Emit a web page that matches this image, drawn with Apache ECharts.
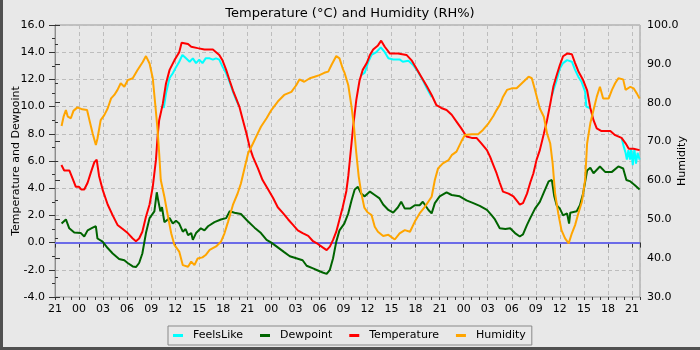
<!DOCTYPE html>
<html>
<head>
<meta charset="utf-8">
<script src="https://cdn.jsdelivr.net/npm/echarts@6/dist/echarts.min.js"></script>
<style>
  html, body { margin: 0; padding: 0; background: #e8e8e8; }
  #chart { width: 700px; height: 350px; }
</style>
</head>
<body>
<div id="chart"></div>
<script>
// Hours since 21:00 on day 1, value
const temperature = [[0.8,5.7],[1.15,5.3],[1.8,5.3],[2.2,4.7],[2.6,4.1],[3.0,4.1],[3.3,3.9],[3.65,3.9],[4.07,4.4],[4.5,5.2],[4.9,5.9],[5.2,6.1],[5.5,4.9],[5.94,3.9],[6.57,2.8],[7.2,2.0],[7.8,1.3],[8.45,1.0],[9.07,0.7],[9.7,0.3],[10.1,0.1],[10.5,0.3],[10.9,0.8],[11.35,1.9],[11.8,2.8],[12.2,4.1],[12.6,6.1],[12.8,7.8],[13.0,9.0],[13.45,10.2],[13.85,11.7],[14.3,12.7],[14.9,13.4],[15.5,14.0],[15.8,14.7],[15.95,14.8],[16.6,14.6],[17.0,14.4],[17.8,14.3],[18.65,14.2],[19.7,14.2],[20.1,14.0],[20.5,13.8],[20.9,13.4],[21.36,12.7],[21.8,11.9],[22.2,11.2],[22.6,10.6],[23.0,10.0],[23.4,9.1],[23.9,8.0],[24.3,7.0],[24.7,6.3],[25.3,5.5],[25.9,4.6],[26.6,3.9],[27.2,3.3],[27.8,2.6],[28.4,2.2],[29.1,1.7],[29.7,1.3],[30.3,0.9],[30.9,0.7],[31.6,0.5],[32.2,0.1],[32.8,-0.1],[33.4,-0.35],[33.9,-0.55],[34.3,-0.3],[34.7,0.2],[35.1,0.8],[35.5,1.7],[35.9,2.6],[36.36,3.8],[36.6,4.9],[36.8,6.1],[37.0,7.3],[37.2,8.5],[37.4,9.5],[37.6,10.5],[37.8,11.2],[38.0,11.9],[38.4,12.7],[38.9,13.2],[39.3,13.8],[39.7,14.2],[40.3,14.5],[40.7,14.85],[41.15,14.4],[41.8,13.9],[42.8,13.9],[43.86,13.8],[44.5,13.4],[45.1,12.8],[45.7,12.2],[46.4,11.5],[47.0,10.85],[47.6,10.1],[48.2,9.9],[48.86,9.75],[49.5,9.4],[50.1,8.9],[50.7,8.4],[51.35,7.8],[52.0,7.7],[52.6,7.7],[53.2,7.3],[53.9,6.8],[54.3,6.3],[54.7,5.7],[55.1,5.1],[55.5,4.4],[55.9,3.75],[56.6,3.6],[57.2,3.4],[57.6,3.1],[58.0,2.8],[58.4,2.9],[58.9,3.6],[59.3,4.4],[59.7,5.1],[60.1,6.1],[60.5,6.8],[61.0,8.0],[61.4,9.0],[61.8,10.2],[62.2,11.5],[62.6,12.3],[63.0,13.05],[63.4,13.7],[63.9,13.9],[64.5,13.85],[64.9,13.2],[65.3,12.6],[65.9,11.95],[66.4,11.2],[66.8,9.9],[67.2,9.0],[67.6,8.4],[68.2,8.2],[69.3,8.2],[69.9,7.9],[70.7,7.7],[71.2,7.3],[71.6,6.9],[72.2,6.9],[72.95,6.8]];

const feelsLike = [[13.45,10.2],[13.57,9.9],[13.86,11.0],[14.3,12.1],[14.7,12.45],[15.1,12.9],[15.5,13.3],[15.9,13.8],[16.35,13.55],[16.8,13.3],[17.2,13.55],[17.6,13.2],[18.0,13.45],[18.4,13.2],[18.8,13.55],[19.3,13.55],[19.7,13.45],[20.1,13.55],[20.5,13.45],[20.9,12.94],[21.36,12.45],[21.8,11.8],[22.2,11.1],[22.6,10.5],[23.0,10.0],
  null,
  [38.2,12.3],[38.65,12.5],[39.1,13.3],[39.5,13.8],[40.1,14.0],[40.65,14.36],[41.15,14.0],[41.6,13.55],[42.2,13.47],[43.0,13.47],[43.4,13.3],[44.1,13.37],[44.7,13.05],[45.3,12.57],[46.0,11.83],[46.4,11.34],[47.0,10.7],
  null,
  [62.0,10.8],[62.2,11.2],[62.6,11.95],[63.0,12.8],[63.4,13.2],[63.9,13.42],[64.5,13.3],[64.9,12.7],[65.3,12.2],[65.7,11.83],[66.15,11.1],[66.3,10.0],[66.5,9.9],[66.8,9.87],
  null,
  [70.7,7.7],[71.0,7.0],[71.2,6.6],[71.36,6.1],[71.55,6.8],[71.75,6.1],[71.9,6.9],[72.1,5.7],[72.3,6.9],[72.5,5.8],[72.7,6.6],[72.95,6.1]];

const dewpoint = [[0.82,1.4],[1.36,1.7],[1.78,1.05],[2.4,0.75],[3.23,0.7],[3.65,0.45],[4.07,0.9],[4.7,1.1],[5.1,1.2],[5.3,0.3],[5.94,0.07],[6.57,-0.4],[7.2,-0.8],[8.0,-1.2],[8.65,-1.3],[9.07,-1.5],[9.7,-1.75],[10.1,-1.8],[10.5,-1.5],[10.9,-0.8],[11.35,0.7],[11.8,1.8],[12.4,2.3],[12.7,3.7],[12.85,3.2],[13.15,2.3],[13.35,2.6],[13.65,1.5],[14.3,1.8],[14.7,1.4],[15.1,1.6],[15.5,1.4],[15.95,0.8],[16.3,1.0],[16.6,0.55],[17.0,0.7],[17.2,0.2],[17.6,0.7],[18.2,1.05],[18.65,0.9],[19.1,1.2],[19.9,1.5],[20.7,1.7],[21.36,1.8],[21.8,2.3],[22.4,2.2],[23.2,2.1],[24.1,1.55],[24.9,1.1],[25.7,0.7],[26.4,0.2],[27.0,0.0],[27.8,-0.35],[28.6,-0.7],[29.3,-1.0],[30.1,-1.15],[30.9,-1.3],[31.4,-1.7],[32.2,-1.9],[32.8,-2.05],[33.4,-2.2],[33.9,-2.3],[34.3,-2.0],[34.7,-1.15],[35.1,0.07],[35.5,0.9],[36.1,1.4],[36.6,2.15],[37.0,3.1],[37.4,3.9],[37.8,4.1],[38.2,3.6],[38.65,3.4],[39.3,3.75],[39.9,3.5],[40.5,3.25],[40.95,2.8],[41.6,2.4],[42.2,2.2],[42.8,2.6],[43.2,3.0],[43.65,2.5],[44.3,2.5],[44.9,2.75],[45.5,2.75],[45.9,3.0],[46.6,2.4],[47.0,2.15],[47.4,2.9],[48.0,3.4],[48.86,3.7],[49.5,3.5],[50.5,3.4],[51.35,3.1],[52.2,2.9],[53.0,2.7],[53.9,2.4],[54.5,2.0],[54.9,1.7],[55.5,1.05],[56.2,1.0],[56.8,1.05],[57.4,0.7],[58.0,0.45],[58.4,0.6],[58.9,1.3],[59.3,1.8],[59.9,2.5],[60.5,3.0],[61.15,3.9],[61.6,4.5],[62.0,4.6],[62.3,3.4],[62.6,2.75],[63.0,2.5],[63.4,2.0],[63.9,2.15],[64.15,1.4],[64.3,2.2],[64.5,2.3],[65.1,2.3],[65.5,2.75],[65.9,3.6],[66.4,5.3],[66.8,5.5],[67.2,5.1],[68.0,5.6],[68.65,5.2],[69.5,5.2],[70.3,5.6],[70.9,5.45],[71.3,4.6],[71.8,4.5],[72.4,4.2],[72.95,3.9]];

const humidity = [[0.82,74.0],[1.07,76.4],[1.36,78.1],[1.6,76.4],[1.98,76.0],[2.3,77.9],[2.8,78.8],[3.4,78.3],[4.0,78.1],[4.3,75.5],[4.7,72.1],[5.1,69.1],[5.3,70.8],[5.7,75.5],[6.15,76.8],[6.57,78.5],[7.0,81.1],[7.4,82.0],[7.8,83.3],[8.2,85.0],[8.65,84.1],[9.07,85.8],[9.7,86.3],[10.3,88.4],[10.95,90.5],[11.35,92.0],[11.8,90.1],[12.2,86.3],[12.5,79.8],[12.8,73.0],[13.0,67.0],[13.2,60.1],[13.65,55.8],[14.1,50.7],[14.5,46.4],[14.9,43.4],[15.5,41.7],[15.95,38.2],[16.6,37.8],[17.0,39.1],[17.4,38.2],[17.8,39.9],[18.4,40.2],[18.8,40.8],[19.3,42.1],[20.1,43.0],[20.7,44.2],[21.15,46.4],[21.6,49.4],[22.2,53.7],[22.8,56.7],[23.2,59.2],[23.6,62.7],[24.1,67.0],[24.7,69.5],[25.3,72.1],[25.7,73.8],[26.4,76.0],[27.0,78.1],[27.8,80.3],[28.6,82.0],[29.5,82.8],[30.1,84.5],[30.5,86.0],[31.1,85.4],[31.8,86.3],[32.4,86.7],[33.0,87.1],[33.6,87.7],[34.1,88.0],[34.5,89.7],[35.1,92.0],[35.5,91.4],[35.9,88.8],[36.15,87.6],[36.6,84.5],[37.0,79.0],[37.3,74.0],[37.6,67.0],[37.9,61.0],[38.2,57.0],[38.6,53.0],[39.0,51.8],[39.5,51.1],[39.9,48.1],[40.3,46.8],[40.95,45.7],[41.6,46.0],[42.4,44.8],[43.0,46.4],[43.65,47.2],[44.3,46.8],[44.9,49.4],[45.5,51.5],[46.15,53.2],[47.0,55.8],[47.4,60.1],[47.8,63.1],[48.4,64.4],[49.1,65.2],[49.5,66.5],[50.1,67.4],[50.7,70.0],[51.15,71.7],[52.0,71.9],[52.8,71.9],[53.4,73.0],[54.1,74.7],[54.3,75.1],[54.7,76.6],[55.1,78.1],[55.5,79.4],[55.9,81.5],[56.4,83.3],[57.0,83.7],[57.6,83.7],[58.0,84.5],[58.65,85.8],[59.1,86.7],[59.5,86.3],[59.9,83.3],[60.5,78.5],[61.0,76.4],[61.4,72.1],[61.8,69.5],[62.1,64.4],[62.4,56.7],[62.8,51.5],[63.2,47.2],[63.65,45.1],[64.1,43.8],[64.5,46.4],[64.9,48.5],[65.3,51.5],[65.75,54.5],[66.15,60.1],[66.4,69.5],[66.8,74.7],[67.2,78.1],[67.6,81.5],[68.0,84.1],[68.4,81.1],[69.1,81.1],[69.5,83.3],[69.9,85.0],[70.3,86.3],[70.9,86.0],[71.2,83.3],[71.8,84.1],[72.2,83.7],[72.6,82.4],[72.95,81.1]];

const seriesNames = ['FeelsLike', 'Dewpoint', 'Temperature', 'Humidity'];
const startHourOfDay = 21;
const hourRange = [0, 73];
const tempRange = [-4, 16];
const humRange = [30, 100];
const titleText = 'Temperature (\u00b0C) and Humidity (RH%)';

const chart = echarts.init(document.getElementById('chart'), null, { renderer: 'canvas' });
const font = 'DejaVu Sans';
const tickColor = '#333';
const axisLineColor = '#8c8c8c';
const gridLine = { show: true, lineStyle: { color: '#bdbdbd', type: [4, 3], width: 1 } };

function pad2(n) { return (n < 10 ? '0' : '') + n; }

const option = {
  animation: false,
  backgroundColor: '#e8e8e8',
  textStyle: { fontFamily: font, color: '#000' },
  title: {
    text: titleText, left: 'center', top: 2,
    textStyle: { fontFamily: font, fontSize: 13, fontWeight: 'normal', color: '#000' }
  },
  graphic: [
    { type: 'rect', left: 0, top: 0, shape: { width: 3, height: 350 }, style: { fill: '#505050' }, z: 100 },
    { type: 'rect', left: 0, top: 347, shape: { width: 700, height: 3 }, style: { fill: '#505050' }, z: 100 }
  ],
  legend: {
    data: seriesNames,
    left: 168, top: 326,
    icon: 'rect', itemWidth: 10, itemHeight: 3, itemGap: 17,
    padding: [4, 6, 4, 5],
    borderColor: '#888', borderWidth: 1,
    textStyle: { fontFamily: font, fontSize: 11, color: '#000', padding: [0, 0, 0, 5] }
  },
  grid: {
    left: 55, right: 60, top: 25, bottom: 53, containLabel: false, outerBoundsMode: 'none',
    show: true, borderColor: '#999', borderWidth: 1, backgroundColor: 'transparent'
  },
  xAxis: [
    {
      type: 'value', min: hourRange[0], max: hourRange[1], interval: 3, position: 'bottom',
      axisLine: { lineStyle: { color: axisLineColor } },
      axisTick: { length: 5, lineStyle: { color: tickColor } },
      axisLabel: {
        margin: 7, fontSize: 11, fontFamily: font, color: '#000',
        formatter: v => (v % 3 === 0 ? pad2((startHourOfDay + v) % 24) : '')
      },
      splitLine: gridLine
    },
    {
      type: 'value', min: hourRange[0], max: hourRange[1], interval: 1, position: 'bottom',
      axisLine: { show: false }, axisLabel: { show: false }, splitLine: { show: false },
      axisTick: { length: 3, lineStyle: { color: tickColor } }
    }
  ],
  yAxis: [
    {
      type: 'value', min: tempRange[0], max: tempRange[1], interval: 2, position: 'left',
      name: 'Temperature and Dewpoint', nameLocation: 'middle', nameGap: 33, nameMoveOverlap: false,
      nameTextStyle: { fontSize: 11, fontFamily: font, color: '#000' },
      axisLine: { show: true, lineStyle: { color: axisLineColor } },
      axisTick: { show: true, length: 6, lineStyle: { color: tickColor } },
      minorTick: { show: true, splitNumber: 2, length: 3, lineStyle: { color: tickColor } },
      axisLabel: { margin: 10, fontSize: 11, fontFamily: font, color: '#000', formatter: v => v.toFixed(1) },
      splitLine: gridLine
    },
    {
      type: 'value', min: humRange[0], max: humRange[1], interval: 10, position: 'right',
      name: 'Humidity', nameLocation: 'middle', nameGap: 37, nameMoveOverlap: false,
      nameTextStyle: { fontSize: 11, fontFamily: font, color: '#000' },
      axisLine: { show: true, lineStyle: { color: axisLineColor } },
      axisTick: { show: true, length: 5, lineStyle: { color: tickColor } },
      minorTick: { show: true, splitNumber: 2, length: 3, lineStyle: { color: tickColor } },
      axisLabel: { margin: 7, fontSize: 11, fontFamily: font, color: '#000', formatter: v => v.toFixed(1) },
      splitLine: { show: false }
    }
  ],
  series: [
    {
      name: seriesNames[0], type: 'line', data: feelsLike, xAxisIndex: 0, yAxisIndex: 0,
      symbol: 'none', connectNulls: false, color: '#00ffff', lineStyle: { width: 2, color: '#00ffff' },
      markLine: {
        z: 1, silent: true, symbol: ['none', 'none'], label: { show: false },
        lineStyle: { color: '#6b6be8', width: 2, type: 'solid' },
        data: [{ yAxis: 0 }]
      }
    },
    { name: seriesNames[1], type: 'line', data: dewpoint, xAxisIndex: 0, yAxisIndex: 0, symbol: 'none', color: '#006400', lineStyle: { width: 2, color: '#006400' } },
    { name: seriesNames[2], type: 'line', data: temperature, xAxisIndex: 0, yAxisIndex: 0, symbol: 'none', color: '#ff0000', lineStyle: { width: 2, color: '#ff0000' } },
    { name: seriesNames[3], type: 'line', data: humidity, xAxisIndex: 0, yAxisIndex: 1, symbol: 'none', color: '#ffa500', lineStyle: { width: 2, color: '#ffa500' } }
  ]
};
chart.setOption(option);
</script>
</body>
</html>
